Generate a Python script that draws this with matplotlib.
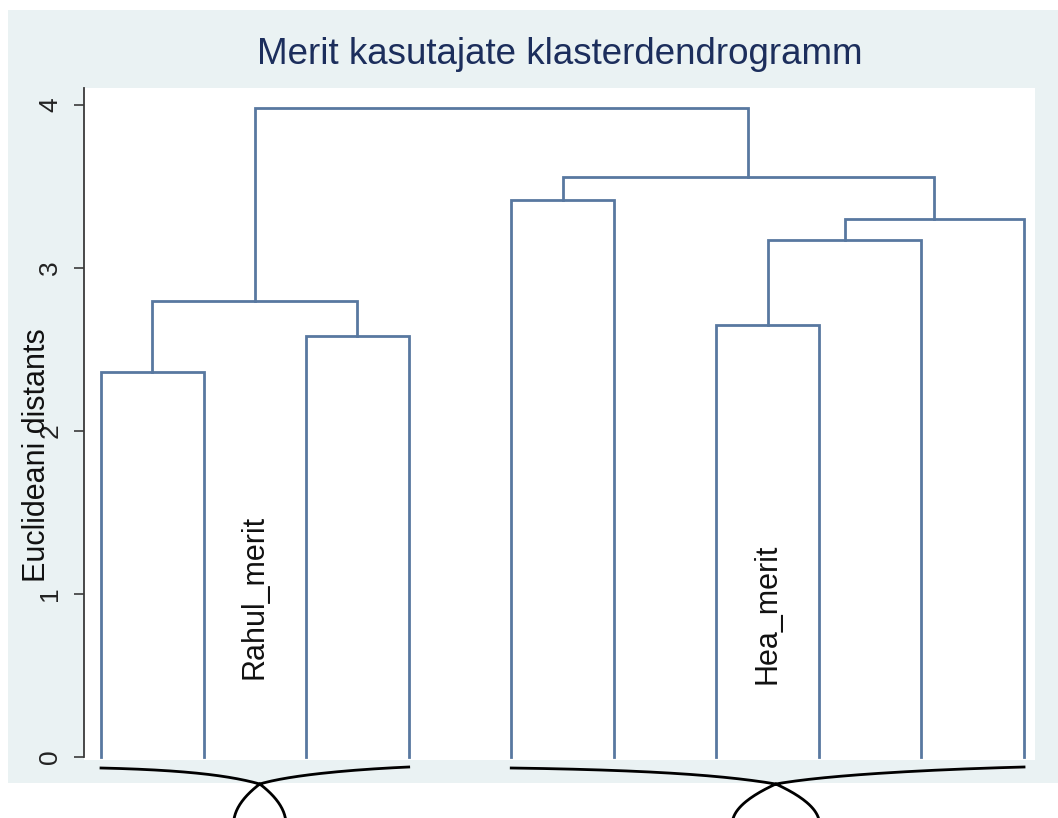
import matplotlib
matplotlib.use("Agg")
import numpy as np
import matplotlib.pyplot as plt
from matplotlib.patches import Rectangle
from matplotlib.lines import Line2D

plt.rcParams['font.family'] = ['Liberation Sans', 'DejaVu Sans']

# dendrogram data (leaf ids 0..9, new clusters get ids 10, 11, ...)
n_leaves = 10
merge_left = [0, 2, 10, 4, 6, 14, 15, 13, 12]
merge_right = [1, 3, 11, 5, 7, 8, 9, 16, 17]
merge_height = [2.36, 2.58, 2.80, 3.42, 2.65, 3.17, 3.30, 3.56, 3.98]

group_names = ["Rahul_merit", "Hea_merit"]
group_first = [1, 5]
group_last = [4, 10]
group_label_y = [0.48, 0.45]

title = "Merit kasutajate klasterdendrogramm"
ylabel = "Euclideani distants"
yticks = [0, 1, 2, 3, 4]

W, H = 1058, 818
bg = '#eaf2f3'
line_col = '#5878a0'

fig = plt.figure(figsize=(W / 100, H / 100), dpi=100)
fig.patch.set_facecolor('white')
fig.patches.append(Rectangle((8 / W, (H - 783) / H), 1050 / W, 773 / H,
                             transform=fig.transFigure, facecolor=bg,
                             edgecolor='none', zorder=-1))

ax = fig.add_axes([84 / W, (H - 760) / H, (1035 - 84) / W, 672 / H])
ax.set_facecolor('white')

# positions and heights of every node
xpos = {i: i + 1 for i in range(n_leaves)}
ypos = {i: 0.0 for i in range(n_leaves)}
for k, (a, b, h) in enumerate(zip(merge_left, merge_right, merge_height)):
    node = n_leaves + k
    ax.plot([xpos[a], xpos[a], xpos[b], xpos[b]], [ypos[a], h, h, ypos[b]],
            color=line_col, lw=2.0, solid_joinstyle='miter')
    xpos[node] = (xpos[a] + xpos[b]) / 2
    ypos[node] = h

ax.set_xlim(0.834, 10.107)
ax.set_ylim(-0.018, 4.104)

for s in ['top', 'right', 'bottom']:
    ax.spines[s].set_visible(False)
ax.spines['left'].set_bounds(0, 4.104)
ax.spines['left'].set_color('#3a3a3a')
ax.spines['left'].set_linewidth(1.3)
ax.set_xticks([])
ax.set_yticks(yticks)
ax.set_yticklabels([str(t) for t in yticks], rotation=90, va='center')
ax.tick_params(axis='y', length=7.5, width=1.2, color='#3a3a3a', pad=8,
               labelsize=19, labelcolor='#222222')

ax.set_ylabel(ylabel, fontsize=22, color='#111111', va='center')
ax.yaxis.set_label_coords(-0.049, 0.454)

for name, a, b, ly in zip(group_names, group_first, group_last, group_label_y):
    ax.text((a + b) / 2, ly, name, rotation=90, ha='center', va='bottom',
            fontsize=22, color='#111111')

fig.text((84 + 1035) / 2 / W, (H - 64) / H, title, ha='center', va='baseline',
         fontsize=26.5, color='#1c2e5c')


def bezier(p0, p1, p2, p3, n=40):
    t = np.linspace(0, 1, n)[:, None]
    p0, p1, p2, p3 = map(np.asarray, (p0, p1, p2, p3))
    return ((1 - t) ** 3 * p0 + 3 * (1 - t) ** 2 * t * p1
            + 3 * (1 - t) * t ** 2 * p2 + t ** 3 * p3)


def brace(xa, xb):
    # curly brace with a loop under the middle, pixel coords (y from top)
    span = xb - xa
    xc = (xa + xb) / 2 + 0.016 * span
    w = 0.085 * span
    ye, yc, depth = 768, 784, 40
    left = bezier((xa, ye), (xa + 0.55 * (xc - xa), 770),
                  (xc - 0.18 * (xc - xa), 776), (xc, yc))
    right = bezier((xc, yc), (xc + 0.18 * (xb - xc), 776),
                   (xc + 0.55 * (xb - xc), 770), (xb, ye - 1))
    d = np.linspace(0, depth, 40)
    half = w * (1 - (1 - d / depth) ** 2)
    down = np.column_stack([xc + half, yc + d])
    th = np.linspace(0, np.pi, 40)
    bottom = np.column_stack([xc + w * np.cos(th), yc + depth + 25 * np.sin(th)])
    up = np.column_stack([xc - half[::-1], yc + d[::-1]])
    pts = np.vstack([left, down, bottom, up, right])
    fig.add_artist(Line2D(pts[:, 0] / W, (H - pts[:, 1]) / H,
                          transform=fig.transFigure, color='black', lw=2.0,
                          solid_joinstyle='round', zorder=3))


for a, b in zip(group_first, group_last):
    xa = ax.transData.transform((a, 0))[0]
    xb = ax.transData.transform((b, 0))[0]
    brace(xa, xb)

fig.savefig('out.png', dpi=100)
